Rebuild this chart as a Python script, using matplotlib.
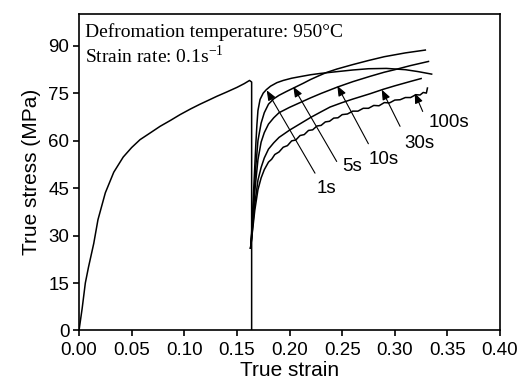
import matplotlib
matplotlib.use("Agg")
from matplotlib import pyplot as plt

# Pre-straining curve (loaded to ~0.163, then unloaded)
pre_strain = [0, 0.003, 0.006, 0.009, 0.014, 0.018, 0.025, 0.033, 0.042, 0.05,
              0.058, 0.068, 0.077, 0.087, 0.096, 0.106, 0.115, 0.124, 0.131,
              0.14, 0.15, 0.157, 0.162, 0.164, 0.164]
pre_stress = [0, 7, 15, 20, 27.5, 35, 43.5, 50, 54.8, 57.8,
              60.3, 62.5, 64.5, 66.4, 68.2, 70, 71.5, 72.9, 74,
              75.3, 76.8, 78, 79, 78.5, 0]

# Reloading curves after different holding times
s1_strain = [0.163, 0.164, 0.165, 0.166, 0.167, 0.168, 0.169, 0.170, 0.172,
             0.175, 0.178, 0.182, 0.188, 0.194, 0.202, 0.21, 0.22, 0.229,
             0.24, 0.26, 0.275, 0.292, 0.31, 0.322, 0.335]
s1_stress = [26, 31, 38, 45, 52, 59, 65, 69.5, 73,
             75, 76.1, 77.2, 78.3, 79, 79.7, 80.2, 80.8, 81.2,
             81.6, 82.3, 82.7, 82.8, 82.4, 81.8, 81]

s5_strain = [0.163, 0.164, 0.165, 0.166, 0.168, 0.170, 0.173, 0.176, 0.18,
             0.185, 0.19, 0.197, 0.205, 0.213, 0.22, 0.228, 0.235, 0.245,
             0.26, 0.275, 0.29, 0.31, 0.329]
s5_stress = [26, 30, 35, 41, 52, 60, 65.5, 68.8, 71.5,
             73.2, 74.3, 75.5, 76.8, 78.1, 79.3, 80.5, 81.5, 82.6,
             84, 85.3, 86.5, 87.7, 88.6]

s10_strain = [0.163, 0.164, 0.165, 0.167, 0.170, 0.173, 0.176, 0.18, 0.185,
              0.19, 0.20, 0.21, 0.22, 0.23, 0.2385, 0.2454, 0.26, 0.2765,
              0.29, 0.30, 0.315, 0.332]
s10_stress = [26, 30, 34, 44, 54, 59.5, 62.5, 65.2, 67.2,
              68.8, 70.5, 72, 73.5, 74.9, 76, 76.9, 78.6, 80.3,
              81.6, 82.4, 83.7, 85]

s30_strain = [0.163, 0.164, 0.165, 0.167, 0.170, 0.173, 0.176, 0.18, 0.185,
              0.19, 0.20, 0.21, 0.22, 0.23, 0.2385, 0.25, 0.26, 0.2765,
              0.289, 0.30, 0.315, 0.325]
s30_stress = [26, 29, 33, 40, 47.5, 51.5, 54.5, 57.3, 59.3,
              61, 63.3, 65.3, 67.3, 69.1, 70.6, 72, 73.1, 74.8,
              76.2, 77.3, 78.7, 79.6]

s100_strain = [0.163, 0.164, 0.165, 0.167, 0.170, 0.173, 0.176, 0.18, 0.183,
               0.186, 0.19, 0.194, 0.198, 0.202, 0.206, 0.21, 0.214, 0.218,
               0.222, 0.226, 0.23, 0.234, 0.238, 0.242, 0.246, 0.25, 0.255,
               0.26, 0.265, 0.27, 0.275, 0.28, 0.285, 0.29, 0.295, 0.30,
               0.305, 0.31, 0.315, 0.32, 0.324, 0.327, 0.33, 0.331]
s100_stress = [26, 29, 32, 38, 44.5, 48.2, 50.8, 53.2, 54.1,
               55.6, 56.4, 57.9, 58.4, 59.9, 60.2, 61.6, 61.9, 63.2,
               63.4, 64.6, 64.8, 65.9, 66.1, 67.1, 67.2, 68.2, 68.4,
               69.3, 69.3, 70.2, 70.2, 71.1, 71.0, 72.0, 71.9, 72.8,
               72.9, 73.6, 73.6, 74.5, 74.4, 75.2, 75.0, 76.6]

hold_labels = ["1s", "5s", "10s", "30s", "100s"]
# text position, arrow tail and arrow head (on the curve) for each label
label_pos = [(0.2347, 45), (0.259, 51.8), (0.289, 54), (0.3233, 59.2), (0.351, 65.8)]
arrow_tail = [(0.2242, 49.7), (0.2448, 53.4), (0.2749, 59), (0.305, 64.5), (0.3265, 69.2)]
arrow_head = [(0.1783, 75.9), (0.2036, 77), (0.2454, 77.3), (0.2876, 76.1), (0.319, 75)]

fig = plt.figure(figsize=(5.25, 3.86), dpi=100)
ax = fig.add_axes([0.1505, 0.1438, 0.802, 0.82])

lw = 1.1
ax.plot(pre_strain, pre_stress, color="black", lw=lw)
for xs, ys in [(s1_strain, s1_stress), (s5_strain, s5_stress),
               (s10_strain, s10_stress), (s30_strain, s30_stress),
               (s100_strain, s100_stress)]:
    ax.plot(xs, ys, color="black", lw=lw)

for lab, tp, tail, head in zip(hold_labels, label_pos, arrow_tail, arrow_head):
    ax.annotate("", xy=head, xytext=tail,
                arrowprops=dict(arrowstyle="-|>,head_length=0.5,head_width=0.2",
                                color="black", lw=0.8,
                                mutation_scale=12, shrinkA=0, shrinkB=0))
    ax.text(tp[0], tp[1], lab, fontsize=13.5, ha="center", va="center",
            family="Liberation Sans")

ax.text(0.0055, 97, "Defromation temperature: 950\u00b0C", fontsize=14,
        family="Liberation Serif", va="top")
ax.text(0.0055, 90.5, "Strain rate: 0.1s$^{\\mathregular{-1}}$", fontsize=14,
        family="Liberation Serif", va="top")

ax.set_xlim(0, 0.4)
ax.set_ylim(0, 100)
ax.set_xticks([0, 0.05, 0.1, 0.15, 0.2, 0.25, 0.3, 0.35, 0.4])
ax.set_xticklabels(["0.00", "0.05", "0.10", "0.15", "0.20", "0.25", "0.30",
                    "0.35", "0.40"])
ax.set_yticks([0, 15, 30, 45, 60, 75, 90])
ax.tick_params(direction="out", length=4, width=1.2, labelsize=13.5,
               top=False, right=False)
ax.tick_params(axis="x", pad=4)
ax.tick_params(axis="y", pad=3)
for lbl in ax.get_xticklabels() + ax.get_yticklabels():
    lbl.set_family("Liberation Sans")
for sp in ax.spines.values():
    sp.set_linewidth(1.2)

ax.set_xlabel("True strain", fontsize=15, family="Liberation Sans", labelpad=2)
ax.set_ylabel("True stress (MPa)", fontsize=15, family="Liberation Sans",
              labelpad=5)

fig.savefig("out.png", dpi=100)
